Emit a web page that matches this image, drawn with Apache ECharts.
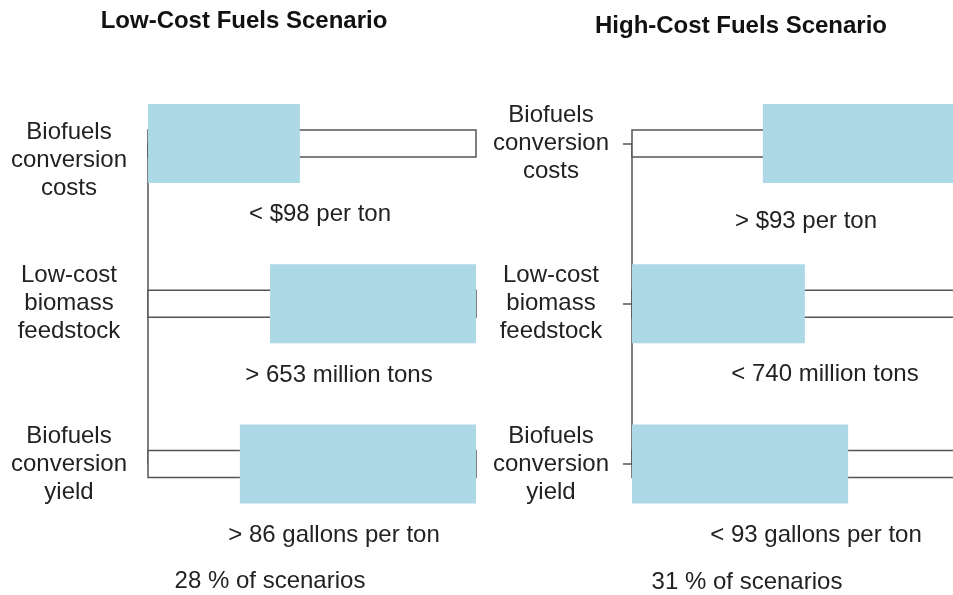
<!DOCTYPE html>
<html>
<head>
<meta charset="utf-8">
<script src="https://cdn.jsdelivr.net/npm/echarts@6/dist/echarts.min.js"></script>
<style>html,body{margin:0;padding:0;background:#fff;}#chart{width:953px;height:595px;}</style>
</head>
<body>
<div id="chart"></div>
<script>
// ---- Data ----
const drivers = ['Biofuels\nconversion\ncosts', 'Low-cost\nbiomass\nfeedstock', 'Biofuels\nconversion\nyield'];
const panelTitles = ['Low-Cost Fuels Scenario', 'High-Cost Fuels Scenario'];
// Each driver's explored range on a normalized 0-100 scale
const rangeMin = [0, 0, 0];
const rangeMax = [100, 100, 100];
// Part of each range that defines the scenario (shaded box)
const lowShadeStart = [0, 37.2, 28.0];
const lowShadeEnd = [46.3, 100, 100];
const highShadeStart = [39.9, 0, 0];
const highShadeEnd = [100, 52.7, 65.9];
const lowThresholds = ['< $98 per ton', '> 653 million tons', '> 86 gallons per ton'];
const highThresholds = ['> $93 per ton', '< 740 million tons', '< 93 gallons per ton'];
const lowShare = '28 % of scenarios';
const highShare = '31 % of scenarios';

// ---- Styles ----
const FONT = '"Liberation Sans", Arial, sans-serif';
const FS = 24;
const TXT = '#222';
const BLUE = '#add8e6';
const EDGE = '#555';

function buildData(ss, se) {
  return drivers.map((d, i) => [i, rangeMin[i], rangeMax[i], ss[i], se[i]]);
}

function renderItem(params, api) {
  const c = api.value(0);
  const p0 = api.coord([api.value(1), c]);
  const p1 = api.coord([api.value(2), c]);
  const b0 = api.coord([api.value(3), c]);
  const b1 = api.coord([api.value(4), c]);
  return {
    type: 'group',
    children: [
      { type: 'rect', shape: { x: p0[0], y: p0[1] - 13.5, width: p1[0] - p0[0], height: 27 },
        style: { fill: '#fff', stroke: EDGE, lineWidth: 1.5 } },
      { type: 'rect', shape: { x: b0[0], y: b0[1] - 39.5, width: b1[0] - b0[0], height: 79 },
        style: { fill: BLUE } }
    ]
  };
}

const labelBase = {
  fontFamily: FONT, fontSize: FS, color: TXT, lineHeight: 28, align: 'center', margin: 77,
  rich: { g: { fontSize: 4, lineHeight: 34 }, t: { fontFamily: FONT, fontSize: FS, color: TXT, lineHeight: 28 } }
};

const option = {
  animation: false,
  backgroundColor: '#fff',
  grid: [
    { left: 148, width: 328, top: 143.5, height: 320.5, containLabel: false, outerBoundsMode: 'none' },
    { left: 632, width: 328, top: 143.5, height: 320.5, containLabel: false, outerBoundsMode: 'none' }
  ],
  xAxis: [
    { gridIndex: 0, type: 'value', min: 0, max: 100, show: false },
    { gridIndex: 1, type: 'value', min: 0, max: 100, show: false }
  ],
  yAxis: [
    { gridIndex: 0, type: 'category', inverse: true, boundaryGap: false, offset: 2,
      data: drivers,
      axisLine: { lineStyle: { color: EDGE, width: 1.5 } },
      axisTick: { show: false }, splitLine: { show: false },
      axisLabel: Object.assign({}, labelBase, {
        // first row's label sits a little lower in the original
        formatter: (v, i) => i === 0 ? '{g| }\n' + v.split('\n').map(s => '{t|' + s + '}').join('\n') : v
      }) },
    { gridIndex: 1, type: 'category', inverse: true, boundaryGap: false, offset: 3,
      data: drivers,
      axisLine: { lineStyle: { color: EDGE, width: 1.5 } },
      axisTick: { show: true, length: 9, lineStyle: { color: EDGE, width: 1.5 } }, splitLine: { show: false },
      axisLabel: Object.assign({}, labelBase, { margin: 78 }) }
  ],
  series: [
    { type: 'custom', xAxisIndex: 0, yAxisIndex: 0, clip: false, renderItem: renderItem,
      encode: { x: [1, 2, 3, 4], y: 0 }, data: buildData(lowShadeStart, lowShadeEnd) },
    { type: 'custom', xAxisIndex: 1, yAxisIndex: 1, clip: false, renderItem: renderItem,
      encode: { x: [1, 2, 3, 4], y: 0 }, data: buildData(highShadeStart, highShadeEnd) }
  ],
  graphic: []
};

function txt(x, y, text, extra) {
  return { type: 'text', x: x, y: y, silent: true,
    style: Object.assign({ text: text, fontFamily: FONT, fontSize: FS, fill: TXT,
      align: 'center', verticalAlign: 'middle' }, extra || {}) };
}
option.graphic.push(txt(244, 21, panelTitles[0], { fontWeight: 'bold', fontSize: 24, fill: '#111' }));
option.graphic.push(txt(741, 26, panelTitles[1], { fontWeight: 'bold', fontSize: 24, fill: '#111' }));
const lowPos = [[320, 214], [339, 375], [334, 535]];
const highPos = [[806, 221], [825, 374], [816, 535]];
lowThresholds.forEach((t, i) => option.graphic.push(txt(lowPos[i][0], lowPos[i][1], t)));
highThresholds.forEach((t, i) => option.graphic.push(txt(highPos[i][0], highPos[i][1], t)));
option.graphic.push(txt(270, 581, lowShare));
option.graphic.push(txt(747, 582, highShare));

const chart = echarts.init(document.getElementById('chart'), null, { renderer: 'canvas' });
chart.setOption(option);
</script>
</body>
</html>
